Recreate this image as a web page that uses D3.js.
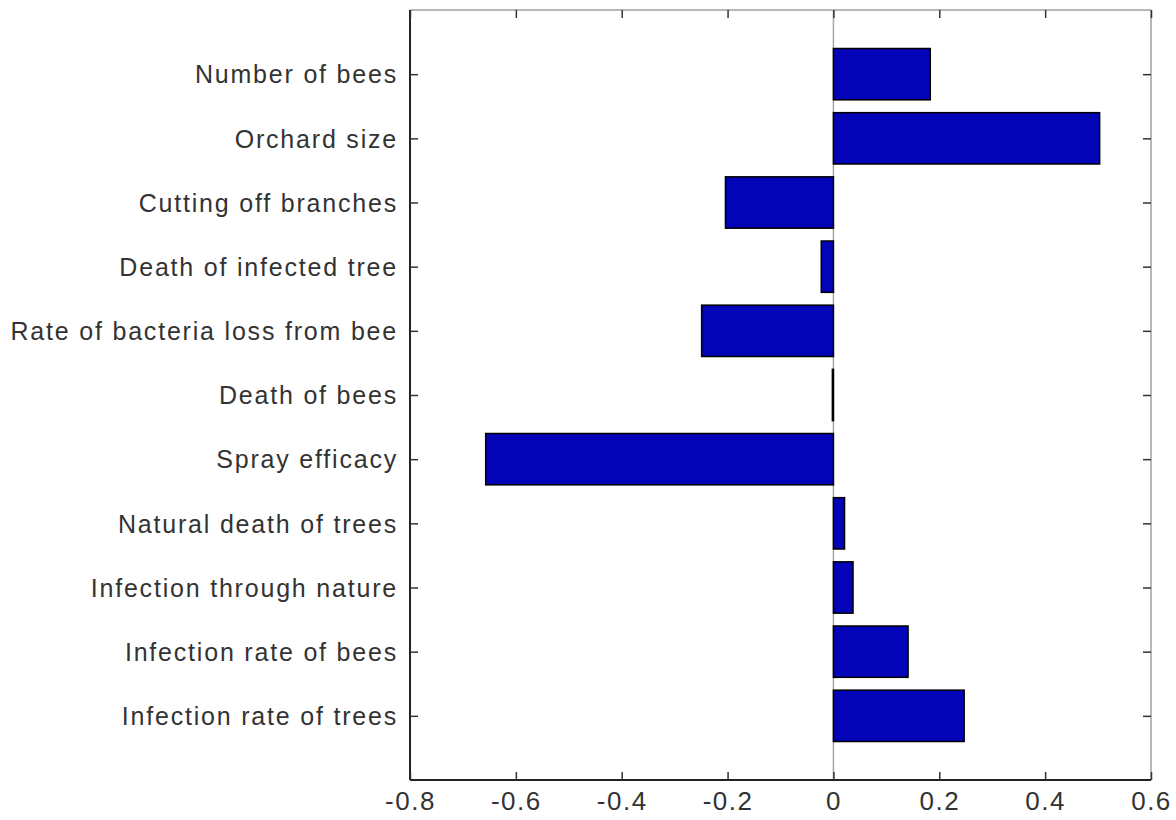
<!DOCTYPE html>
<html><head><meta charset="utf-8">
<script src="https://cdn.jsdelivr.net/npm/d3@7"></script>
<style>body{margin:0;background:#fff}</style>
</head><body>
<svg id="c" width="1176" height="820"></svg>
<script>
// Data (bottom to top order as in MATLAB barh)
const categories = [
  "Infection rate of trees",
  "Infection rate of bees",
  "Infection through nature",
  "Natural death of trees",
  "Spray efficacy",
  "Death of bees",
  "Rate of bacteria loss from bee",
  "Death of infected tree",
  "Cutting off branches",
  "Orchard size",
  "Number of bees"
];
const values = [0.247, 0.141, 0.037, 0.021, -0.657, -0.002, -0.249, -0.023, -0.204, 0.503, 0.183];
const xTicks = [-0.8, -0.6, -0.4, -0.2, 0, 0.2, 0.4, 0.6];
const xTickLabels = ["-0.8", "-0.6", "-0.4", "-0.2", "0", "0.2", "0.4", "0.6"];

const svg = d3.select("#c");
const L = 410, R = 1151, T = 10, B = 780;
const x = d3.scaleLinear().domain([-0.8, 0.6]).range([L, R]);
const y = d3.scaleLinear().domain([0, 12]).range([B, T]);
const barH = y(0) - y(0.8);

const font = "'Liberation Sans', Arial, sans-serif";

// zero line
svg.append("line").attr("x1", x(0)).attr("x2", x(0)).attr("y1", T).attr("y2", B)
  .attr("stroke", "#a8a898").attr("stroke-width", 1.5);

// bars
svg.selectAll("rect.bar").data(values).enter().append("rect")
  .attr("class", "bar")
  .attr("x", d => Math.min(x(0), x(d)))
  .attr("width", d => Math.abs(x(d) - x(0)))
  .attr("y", (d, i) => y(i + 1) - barH / 2)
  .attr("height", barH)
  .attr("fill", "#0303b8")
  .attr("stroke", "#000")
  .attr("stroke-width", 1.5);

// frame: top/right lighter
svg.append("line").attr("x1", L).attr("x2", R).attr("y1", T).attr("y2", T).attr("stroke", "#a0a0a0").attr("stroke-width", 1.5);
svg.append("line").attr("x1", R).attr("x2", R).attr("y1", T).attr("y2", B).attr("stroke", "#a0a0a0").attr("stroke-width", 1.5);
svg.append("line").attr("x1", L).attr("x2", L).attr("y1", T).attr("y2", B).attr("stroke", "#222").attr("stroke-width", 2);
svg.append("line").attr("x1", L).attr("x2", R).attr("y1", B).attr("y2", B).attr("stroke", "#222").attr("stroke-width", 2);

const tl = 8;
// x ticks bottom and top
const xb = svg.append("g").attr("transform", `translate(0,${B})`)
  .call(d3.axisBottom(x).tickValues(xTicks).tickSizeInner(-tl).tickSizeOuter(0)
    .tickFormat((d, i) => xTickLabels[i]).tickPadding(14));
xb.select(".domain").remove();
xb.selectAll(".tick line").attr("stroke", "#333").attr("stroke-width", 1.5);
xb.selectAll(".tick text").attr("font-family", font).attr("font-size", 26)
  .attr("fill", "#333").attr("letter-spacing", "1.5px").attr("dy", "0.62em");

const xt = svg.append("g").attr("transform", `translate(0,${T})`)
  .call(d3.axisTop(x).tickValues(xTicks).tickSizeInner(-tl).tickSizeOuter(0).tickFormat(""));
xt.select(".domain").remove();
xt.selectAll(".tick line").attr("stroke", "#333").attr("stroke-width", 1.5);

// y ticks left with labels
const yTickVals = categories.map((c, i) => i + 1);
const yl = svg.append("g").attr("transform", `translate(${L},0)`)
  .call(d3.axisLeft(y).tickValues(yTickVals).tickSizeInner(-tl).tickSizeOuter(0)
    .tickFormat((d) => categories[d - 1]).tickPadding(12));
yl.select(".domain").remove();
yl.selectAll(".tick line").attr("stroke", "#333").attr("stroke-width", 1.5);
yl.selectAll(".tick text").attr("font-family", font).attr("font-size", 25)
  .attr("fill", "#333").attr("letter-spacing", "1.8px").attr("dy", "0.35em");

const yr = svg.append("g").attr("transform", `translate(${R},0)`)
  .call(d3.axisRight(y).tickValues(yTickVals).tickSizeInner(-tl).tickSizeOuter(0).tickFormat(""));
yr.select(".domain").remove();
yr.selectAll(".tick line").attr("stroke", "#333").attr("stroke-width", 1.5);
</script>
</body></html>
